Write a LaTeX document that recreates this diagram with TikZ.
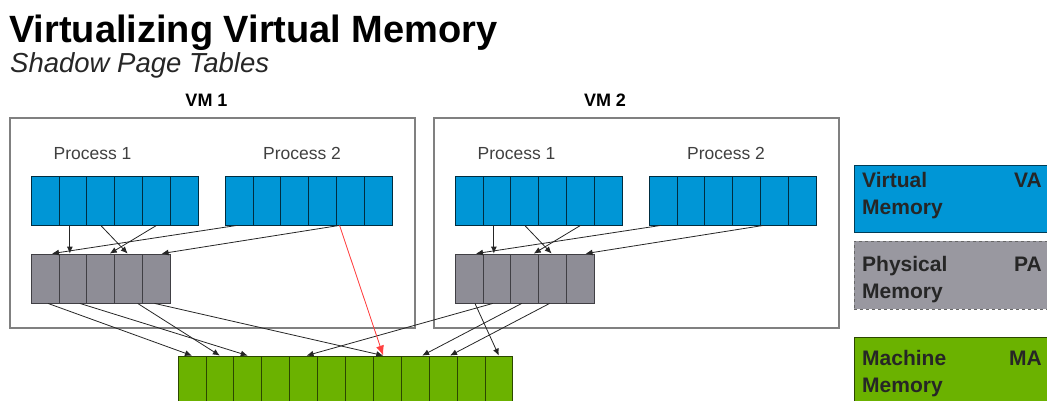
\documentclass[tikz,border=0pt]{standalone}
\usepackage{fontspec}
\setmainfont{Liberation Sans}
\usetikzlibrary{arrows.meta,positioning}
\definecolor{vablue}{RGB}{0,150,214}
\definecolor{pagray}{RGB}{142,141,150}
\definecolor{magreen}{RGB}{107,178,0}
\def\cellw{27.9}

\begin{document}
\begin{tikzpicture}[x=1pt,y=-1pt,>={Latex[length=7pt,width=6pt]}]
	\tikzstyle{cell}=[draw,minimum width=\cellw pt,minimum height=49pt,inner sep=0pt,line width=0.8pt]
	\tikzstyle{va cell}=[cell,fill=vablue,draw=vablue!30!black]
	\tikzstyle{pa cell}=[cell,fill=pagray,draw=pagray!45!black]
	\tikzstyle{ma cell}=[cell,fill=magreen,draw=magreen!40!black]
	\tikzstyle{vm box}=[draw=black!50,line width=1.4pt,minimum width=405pt,minimum height=210pt,inner sep=0pt]
	\tikzstyle{vm label}=[anchor=base,inner sep=0pt,font=\fontsize{18}{20}\selectfont\bfseries]
	\tikzstyle{proc label}=[anchor=base,inner sep=0pt,text=black!75,font=\fontsize{17.5}{20}\selectfont]
	\tikzstyle{key box}=[anchor=north west,minimum width=210pt,inner sep=0pt,line width=0.8pt]
	\tikzstyle{key text}=[inner sep=0pt,text=black!85,font=\fontsize{21}{27}\selectfont\bfseries]
	\tikzstyle{map}=[->,draw=black!85,line width=0.8pt]
	\tikzstyle{shadow map}=[-{Latex[length=10pt,width=8pt]},draw=red!75,fill=red!75,line width=0.8pt]

	\useasboundingbox (0,0) rectangle (1047,400);
	\clip (0,0) rectangle (1047,400);

	\pgfmathsetmacro{\nVA}{6}
	\pgfmathsetmacro{\nPA}{5}
	\pgfmathsetmacro{\nMA}{12}

	% Title
	\node[anchor=base west,inner sep=0pt,font=\fontsize{38}{40}\selectfont\bfseries] (title) at (9,42) {Virtualizing Virtual Memory};
	\node[anchor=base west,inner sep=0pt,font=\fontsize{27.5}{30}\selectfont\itshape,text=black!85] (subtitle) at (10,72) {Shadow Page Tables};

	% Draw the two virtual machines
	\foreach \v/\lx in {1/206.5,2/605}{
		\pgfmathsetmacro{\dx}{424*(\v-1)}
		\node[vm label] (VMlab-\v) at (\lx,106) {VM \v};
		\node[vm box] (VM-\v) at (\dx+212.5,223) {};
		\node[proc label] (P1lab-\v) at (\dx+92.5,159) {Process 1};
		\node[proc label] (P2lab-\v) at (\dx+302,159) {Process 2};
		% virtual pages of both processes
		\foreach \k in {1,...,\nVA}{
			\node[va cell] (VA-\v-1-\k) at (\dx+31+\cellw*\k-\cellw/2,200.5) {};
			\node[va cell] (VA-\v-2-\k) at (\dx+225+\cellw*\k-\cellw/2,200.5) {};
		}
		% physical pages of the guest
		\foreach \k in {1,...,\nPA}
		\node[pa cell] (PA-\v-\k) at (\dx+31+\cellw*\k-\cellw/2,278.5) {};
	}

	% Draw the machine memory
	\foreach \k in {1,...,\nMA}
	\node[ma cell] (MA-\k) at (178+\cellw*\k-\cellw/2,380.5) {};

	% Connect virtual pages with physical pages
	\foreach \v in {1,2}{
		\draw[map] ([xshift=-3pt]VA-\v-1-2.south) -- ([xshift=-3pt]PA-\v-2.north);
		\draw[map] (VA-\v-1-3.south) -- ([xshift=-1pt]PA-\v-4.north);
		\draw[map] (VA-\v-1-5.south) -- ([xshift=9pt]PA-\v-3.north);
		\draw[map] ([xshift=-2pt]VA-\v-2-1.south) -- ([xshift=7pt]PA-\v-1.north);
		\draw[map] ([xshift=-11pt]VA-\v-2-5.south) -- ([xshift=5pt]PA-\v-5.north);
	}

	% Connect physical pages with machine pages
	\draw[map] ([xshift=3pt]PA-1-1.south) -- (MA-1.north);
	\draw[map] ([xshift=7pt]PA-1-2.south) -- (MA-3.north);
	\draw[map] ([xshift=9pt]PA-1-4.south) -- (MA-2.north);
	\draw[map] ([xshift=-2pt]PA-1-5.south) -- ([xshift=-4pt]MA-8.north);
	\draw[map] ([xshift=6pt]PA-2-1.south) -- (MA-12.north);
	\draw[map] ([xshift=-4pt]PA-2-2.south) -- ([xshift=3pt]MA-5.north);
	\draw[map] ([xshift=-3pt]PA-2-3.south) -- ([xshift=7pt]MA-9.north);
	\draw[map] ([xshift=-3pt]PA-2-4.south) -- ([xshift=7pt]MA-10.north);

	% Shadow page table entry
	\draw[shadow map] ([xshift=-11pt]VA-1-2-5.south) -- ([xshift=-4pt]MA-8.north);

	% Legend
	\node[key box,fill=vablue,draw=vablue!40!black,minimum height=67pt] (VAkey) at (854,165) {};
	\node[key box,fill=pagray!90!white,draw=black!60,dashed,minimum height=68pt] (PAkey) at (854,241) {};
	\node[key box,fill=magreen,draw=magreen!40!black,minimum height=80pt] (MAkey) at (854,337) {};
	\node[key text,anchor=base west,align=left] (VAkey-t) at (862,214) {Virtual\\Memory};
	\node[key text,anchor=base west,align=left] (PAkey-t) at (862,298) {Physical\\Memory};
	\node[key text,anchor=base west,align=left] (MAkey-t) at (862,392) {Machine\\Memory};
	\node[key text,anchor=base east] (VAkey-a) at (1042,187) {VA};
	\node[key text,anchor=base east] (PAkey-a) at (1042,271) {PA};
	\node[key text,anchor=base east] (MAkey-a) at (1042,365) {MA};
\end{tikzpicture}
\end{document}
